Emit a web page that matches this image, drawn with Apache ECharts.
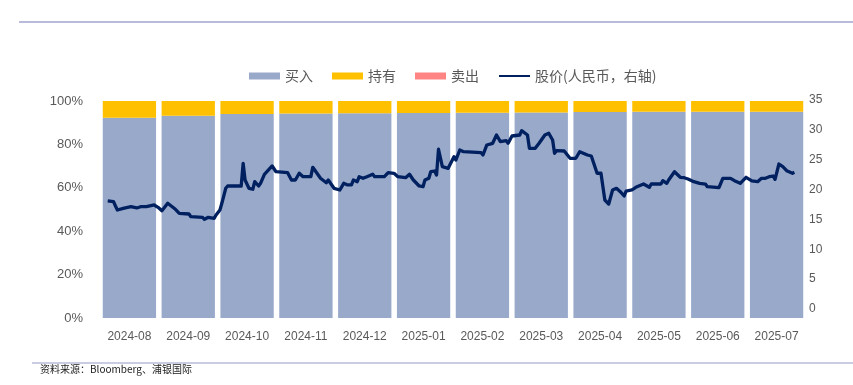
<!DOCTYPE html>
<html>
<head>
<meta charset="utf-8">
<script src="https://cdn.jsdelivr.net/npm/echarts@6/dist/echarts.min.js"></script>
<style>
html,body{margin:0;padding:0;background:#fff;}
#main{width:853px;height:385px;}
</style>
</head>
<body>
<div id="main"></div>
<script>
var categories = ['2024-08','2024-09','2024-10','2024-11','2024-12','2025-01','2025-02','2025-03','2025-04','2025-05','2025-06','2025-07'];
var buyPct  = [92.3, 93.2, 94.0, 94.2, 94.3, 94.5, 94.6, 94.7, 94.9, 95.0, 95.0, 95.1];
var holdPct = [7.7, 6.8, 6.0, 5.8, 5.7, 5.5, 5.4, 5.3, 5.1, 5.0, 5.0, 4.9];
var sellPct = [0, 0, 0, 0, 0, 0, 0, 0, 0, 0, 0, 0];
var priceDates = ['2024-08-05','2024-08-08','2024-08-09','2024-08-10','2024-08-11','2024-08-13','2024-08-17','2024-08-18','2024-08-20','2024-08-22','2024-08-25','2024-08-26','2024-08-29','2024-08-31',
'2024-09-02','2024-09-05','2024-09-06','2024-09-09','2024-09-11','2024-09-16','2024-09-17','2024-09-23','2024-09-24','2024-09-26','2024-09-29','2024-09-30',
'2024-10-02','2024-10-03','2024-10-04','2024-10-05','2024-10-06','2024-10-13','2024-10-14','2024-10-15','2024-10-16','2024-10-17','2024-10-19','2024-10-20','2024-10-22','2024-10-23','2024-10-25','2024-10-26','2024-10-29','2024-10-31',
'2024-11-06','2024-11-08','2024-11-10','2024-11-12','2024-11-14','2024-11-18','2024-11-19','2024-11-23','2024-11-24','2024-11-26','2024-11-27','2024-11-30',
'2024-12-03','2024-12-05','2024-12-07','2024-12-09','2024-12-10','2024-12-12','2024-12-13','2024-12-15','2024-12-17','2024-12-20','2024-12-21','2024-12-26','2024-12-28','2024-12-31',
'2025-01-02','2025-01-06','2025-01-08','2025-01-10','2025-01-13','2025-01-15','2025-01-16','2025-01-18','2025-01-19','2025-01-21','2025-01-22','2025-01-23','2025-01-25','2025-01-28','2025-01-31',
'2025-02-01','2025-02-03','2025-02-05','2025-02-14','2025-02-15','2025-02-17','2025-02-20','2025-02-22','2025-02-24','2025-02-27','2025-02-28',
'2025-03-02','2025-03-06','2025-03-07','2025-03-10','2025-03-11','2025-03-14','2025-03-16','2025-03-19','2025-03-21','2025-03-23','2025-03-24','2025-03-25','2025-03-29',
'2025-04-01','2025-04-04','2025-04-06','2025-04-10','2025-04-12','2025-04-13','2025-04-15','2025-04-17','2025-04-19','2025-04-21','2025-04-23','2025-04-25','2025-04-27','2025-04-29','2025-04-30',
'2025-05-03','2025-05-05','2025-05-06','2025-05-09','2025-05-12','2025-05-13','2025-05-18','2025-05-19','2025-05-21','2025-05-22','2025-05-25','2025-05-28','2025-05-30',
'2025-06-01','2025-06-04','2025-06-07','2025-06-10','2025-06-11','2025-06-12','2025-06-17','2025-06-19','2025-06-23','2025-06-25','2025-06-28',
'2025-07-01','2025-07-04','2025-07-07','2025-07-09','2025-07-11','2025-07-13','2025-07-15','2025-07-16','2025-07-18','2025-07-20','2025-07-22','2025-07-23','2025-07-25','2025-07-26'];
var priceValues = [18.09,17.97,17.25,16.58,16.75,16.86,17.13,16.96,16.92,17.13,17.13,17.42,17.42,17.03,
16.46,17.70,17.58,16.70,16.03,15.91,15.46,15.36,15.02,15.36,15.19,15.74,
16.58,17.70,17.80,20.21,20.60,20.60,24.40,21.60,21.32,20.21,20.05,21.32,20.60,21.05,22.56,22.73,23.95,22.99,
22.83,21.60,21.60,22.73,22.16,22.16,23.73,21.89,21.60,21.15,21.60,20.21,
19.93,21.05,20.77,20.77,21.60,21.32,22.16,21.89,22.16,22.56,22.16,22.16,22.83,22.73,
22.16,21.99,22.56,21.60,20.60,20.48,21.60,21.89,22.99,23.11,22.44,26.75,23.83,23.56,25.51,
24.95,26.63,26.34,26.18,25.79,27.47,27.75,29.14,28.02,28.19,27.75,
28.97,29.14,29.86,29.14,26.91,26.91,27.75,29.14,29.43,28.30,26.08,26.51,26.46,
25.24,25.24,26.34,25.79,25.62,24.67,22.73,22.73,18.25,17.58,19.93,20.21,19.64,18.92,19.76,
19.93,20.38,20.60,20.93,20.38,20.93,20.93,21.49,21.05,21.60,22.99,22.06,21.99,
21.77,21.32,21.05,20.93,20.48,20.32,20.32,21.89,21.89,21.49,21.05,
22.06,21.44,21.32,21.89,21.89,22.16,22.27,21.72,24.28,23.83,23.16,23.40,22.73,22.89];

var priceData = priceDates.map(function(d, i){ return [d, priceValues[i]]; });

var chart = echarts.init(document.getElementById('main'));
var labelColor = '#595959';
chart.setOption({
  animation: false,
  backgroundColor: '#ffffff',
  legend: {
    top: 64,
    left: 244,
    itemWidth: 31,
    itemHeight: 7,
    itemGap: 19,
    textStyle: { color: labelColor, fontSize: 14, fontFamily: 'Noto Sans CJK SC' },
    data: [
      { name: '买入', icon: 'rect' },
      { name: '持有', icon: 'rect' },
      { name: '卖出', icon: 'rect' },
      { name: '股价(人民币，右轴)', itemStyle: { opacity: 0 } }
    ]
  },
  grid: [
    { left: 100, right: 47, top: 101, bottom: 67 },
    { left: 100, right: 47, top: 100, bottom: 76 }
  ],
  xAxis: [
    {
      type: 'category', gridIndex: 0, data: categories,
      axisLine: { show: false }, axisTick: { show: false },
      axisLabel: { color: labelColor, fontSize: 12, margin: 13, fontFamily: "'Liberation Sans Narrow', 'Liberation Sans', sans-serif" }
    },
    {
      type: 'time', gridIndex: 1, min: '2024-08-01', max: '2025-08-01', show: false
    }
  ],
  yAxis: [
    {
      type: 'value', gridIndex: 0, min: 0, max: 100, interval: 20,
      axisLine: { show: false }, axisTick: { show: false }, splitLine: { show: false },
      axisLabel: { color: labelColor, fontSize: 13, margin: 17, fontFamily: "'Liberation Sans', sans-serif", formatter: '{value}%' }
    },
    {
      type: 'value', gridIndex: 1, position: 'right', min: 0, max: 35, interval: 5,
      axisLine: { show: false }, axisTick: { show: false }, splitLine: { show: false },
      axisLabel: { color: labelColor, fontSize: 12, margin: 3, fontFamily: "'Liberation Sans', sans-serif" }
    }
  ],
  series: [
    { name: '买入', type: 'bar', stack: 'a', xAxisIndex: 0, yAxisIndex: 0, data: buyPct, barCategoryGap: '9.4%', itemStyle: { color: '#98A9CA' } },
    { name: '持有', type: 'bar', stack: 'a', xAxisIndex: 0, yAxisIndex: 0, data: holdPct, itemStyle: { color: '#FFC000' } },
    { name: '卖出', type: 'bar', stack: 'a', xAxisIndex: 0, yAxisIndex: 0, data: sellPct, itemStyle: { color: '#FF8585' } },
    { name: '股价(人民币，右轴)', type: 'line', xAxisIndex: 1, yAxisIndex: 1, data: priceData, symbol: 'none',
      lineStyle: { color: '#002060', width: 3.3, join: 'round' }, itemStyle: { color: '#002060' } }
  ],
  graphic: [
    { type: 'line', shape: { x1: 19, y1: 22, x2: 853, y2: 22 }, style: { stroke: '#B8BBDA', lineWidth: 2 } },
    { type: 'line', shape: { x1: 32, y1: 363, x2: 853, y2: 363 }, style: { stroke: '#B8BBDA', lineWidth: 1.5 } },
    { type: 'text', left: 40, top: 364, style: { text: '资料来源：Bloomberg、浦银国际', fill: '#222222', fontSize: 10, fontFamily: 'Noto Sans CJK SC' } }
  ]
});
</script>
</body>
</html>
